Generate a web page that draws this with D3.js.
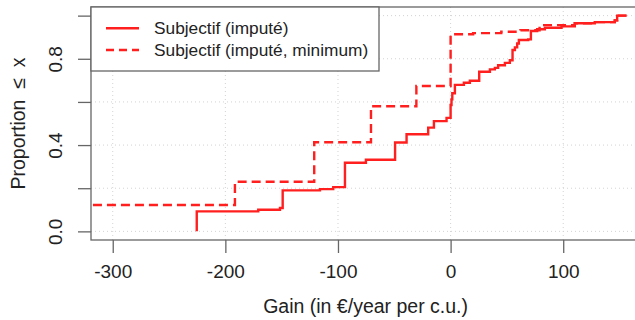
<!DOCTYPE html>
<html><head><meta charset="utf-8">
<script src="https://cdn.jsdelivr.net/npm/d3@7"></script>
<style>
body{margin:0;background:#fff;}
svg{display:block;font-family:"Liberation Sans",Arial,Helvetica,sans-serif;}
</style></head>
<body><svg id="c" width="635" height="320"></svg>
<script>
// ---- data ----
const solidGain = [-225.4,-225.4,-170.8,-151.5,-149.1,-116.0,-104.2,-93.8,-75.2,-49.3,-39.1,-19.9,-14.8,-3.6,0.0,0.8,1.5,3.8,11.8,17.1,25.4,34.9,39.3,42.2,48.2,52.6,55.0,57.1,59.1,60.6,68.9,71.3,76.9,83.7,98.5,110.3,128.0,145.8,147.9,156.2];
const solidProp = [0,0.0925,0.100,0.108,0.190,0.196,0.205,0.318,0.332,0.412,0.450,0.481,0.511,0.526,0.586,0.612,0.640,0.679,0.689,0.698,0.740,0.751,0.758,0.770,0.781,0.793,0.841,0.853,0.871,0.887,0.890,0.929,0.937,0.944,0.950,0.965,0.970,0.978,1.0,1.0];
const dashedGain = [-330,-191.5,-121.1,-70.7,-30.4,0.0,20,45,62,79,110.3,128.0,145.8,147.9,156.2];
const dashedProp = [0.122,0.230,0.413,0.580,0.674,0.914,0.919,0.925,0.932,0.956,0.965,0.970,0.978,1.0,1.0];
const xTicks = [-300,-200,-100,0,100];
const yTicks = [0,0.2,0.4,0.6,0.8,1.0];
const yTickLabels = ["0.0","","0.4","","0.8",""];
const seriesNames = ["Subjectif (imputé)","Subjectif (imputé, minimum)"];
const xTitle = "Gain (in €/year per c.u.)";
const yTitle = "Proportion\u00a0\u00a0≤\u00a0\u00a0x";

// ---- layout ----
const L=91, R=646, T=7, B=240;
const svg=d3.select("#c");
const x=d3.scaleLinear().domain([-319.3,173.5]).range([L,R]);
const y=d3.scaleLinear().domain([-0.04,1.04]).range([B,T]);
const red="#ff1f1f";
const dash="9,5";

svg.append("defs").append("clipPath").attr("id","pc").append("rect")
  .attr("x",L).attr("y",T).attr("width",R-L).attr("height",B-T);

// grid
const g=svg.append("g");
g.selectAll(".gx").data(xTicks).join("line")
  .attr("x1",d=>x(d)).attr("x2",d=>x(d)).attr("y1",T).attr("y2",B)
  .attr("stroke","#d3d3d3").attr("stroke-dasharray","1,3");
g.selectAll(".gy").data(yTicks).join("line")
  .attr("y1",d=>y(d)).attr("y2",d=>y(d)).attr("x1",L).attr("x2",R)
  .attr("stroke","#d3d3d3").attr("stroke-dasharray","1,3");

// lines
const line=d3.line().x(d=>x(d[0])).y(d=>y(d[1])).curve(d3.curveStepAfter);
const plot=svg.append("g").attr("clip-path","url(#pc)");
plot.append("path").datum(dashedGain.map((v,i)=>[v,dashedProp[i]]))
  .attr("d",line).attr("fill","none").attr("stroke",red).attr("stroke-width",2.4)
  .attr("stroke-dasharray",dash).attr("stroke-linecap","butt");
plot.append("path").datum(solidGain.map((v,i)=>[v,solidProp[i]]))
  .attr("d",line).attr("fill","none").attr("stroke",red).attr("stroke-width",2.4);

// axes
const xa=svg.append("g").attr("transform",`translate(0,${B})`)
  .call(d3.axisBottom(x).tickValues(xTicks).tickSize(13).tickPadding(12).tickFormat(d=>d));
const ya=svg.append("g").attr("transform",`translate(${L},0)`)
  .call(d3.axisLeft(y).tickValues(yTicks).tickSize(13).tickFormat((d,i)=>yTickLabels[i]));
[xa,ya].forEach(a=>{a.select(".domain").remove();a.selectAll("line").attr("stroke","#666").attr("stroke-width",1.3);
  a.selectAll("text").attr("font-size",19).attr("fill","#222").attr("font-family","Liberation Sans, Arial, sans-serif");});
ya.selectAll("text").attr("text-anchor","middle").attr("x",0).attr("y",0).attr("dy",0)
  .attr("transform","translate(-29,0) rotate(-90)");

// box
svg.append("rect").attr("x",L).attr("y",T).attr("width",R-L).attr("height",B-T)
  .attr("fill","none").attr("stroke","#666").attr("stroke-width",1.3);

// titles
svg.append("text").attr("x",x(0)-85).attr("y",313).attr("text-anchor","middle")
  .attr("font-size",19.5).attr("fill","#222").text(xTitle);
svg.append("text").attr("transform",`translate(25,${(T+B)/2}) rotate(-90)`).attr("text-anchor","middle")
  .attr("font-size",19.5).attr("fill","#222").text(yTitle);

// legend
const lg=svg.append("g");
lg.append("rect").attr("x",L).attr("y",T).attr("width",288).attr("height",64)
  .attr("fill","#fff").attr("stroke","#666").attr("stroke-width",1.3);
const ly=[28.3,50];
seriesNames.forEach((n,i)=>{
  lg.append("line").attr("x1",106).attr("x2",139).attr("y1",ly[i]).attr("y2",ly[i])
    .attr("stroke",red).attr("stroke-width",2.4).attr("stroke-dasharray",i?"8,5":null);
  lg.append("text").attr("x",154).attr("y",ly[i]).attr("dy","0.35em")
    .attr("font-size",17.3).attr("fill","#222").text(n);
});
</script></body></html>
